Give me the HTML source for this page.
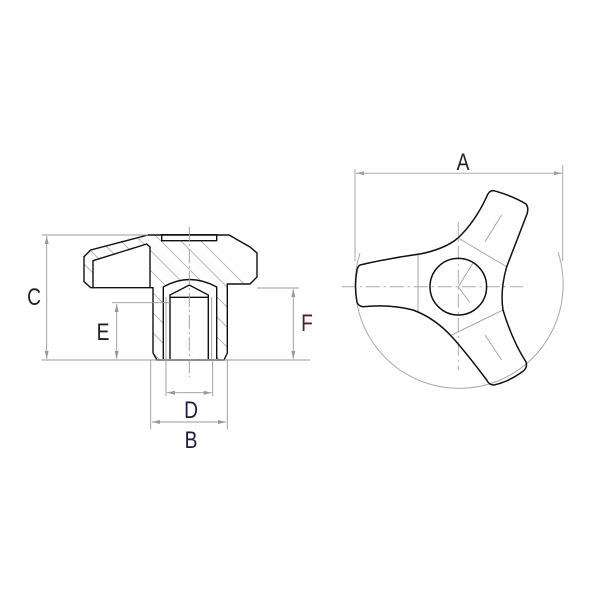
<!DOCTYPE html>
<html><head><style>html,body{margin:0;padding:0;background:#fff}svg{display:block}</style></head>
<body>
<svg width="600" height="600" viewBox="0 0 600 600" xmlns="http://www.w3.org/2000/svg">
<defs>
<clipPath id="sec">
<path d="M148,235 L90.7,250 L84,256.7 L84,281.7 L90.7,287.7 L153,287.7 L153,353 L157,360 L224,360 L227.3,353 L227.3,284 L250,284 L257,277 L257,253 L250,247 L229,235 Z"/>
</clipPath>
</defs>
<g clip-path="url(#sec)" stroke="#aaa" stroke-width="0.8">
<line x1="120" y1="220" x2="270" y2="370"/>
<line x1="140" y1="220" x2="290" y2="370"/>
<line x1="160" y1="220" x2="310" y2="370"/>
<line x1="180" y1="220" x2="330" y2="370"/>
<line x1="100" y1="220" x2="250" y2="370"/>
<line x1="80" y1="220" x2="230" y2="370"/>
<line x1="60" y1="220" x2="210" y2="370"/>
<line x1="40" y1="220" x2="190" y2="370"/>
<line x1="20" y1="220" x2="170" y2="370"/>
<line x1="0" y1="220" x2="150" y2="370"/>
</g>
<path d="M93,260.7 L146.7,244 L150,247 L150,288 L93,288 Z" fill="#fff"/>
<path d="M163.3,359 L163.3,287 Q189.3,272 216.7,287 L216.7,359 Z" fill="#fff"/>
<rect x="161.7" y="234.7" width="55" height="6" fill="#fff"/>
<g fill="none" stroke="#111" stroke-width="1.4">
<path d="M148,235 L90.7,250 L84,256.7 L84,281.7 L90.7,287.7 L153,287.7 L153,353 L157,360 L224,360 L227.3,353 L227.3,284 L250,284 L257,277 L257,253 L250,247 L229,235 Z"/>
<path d="M93,288 L93,260.7 L146.7,244 L150,247 L150,288"/>
<rect x="161.7" y="234.7" width="55" height="6"/>
<path d="M163.3,359 L163.3,287 Q189.3,272 216.7,287 L216.7,359"/>
<path d="M170,359 L170,295 L189.3,285 L208.3,295 L208.3,359"/>
<line x1="170" y1="297.3" x2="208.3" y2="297.3"/>
</g>
<g stroke="#999" stroke-width="0.9" fill="none">
<line x1="166" y1="297" x2="166" y2="359"/>
<line x1="211.7" y1="297" x2="211.7" y2="359"/>
<line x1="189.3" y1="227" x2="189.3" y2="377" stroke-dasharray="14,3,2,3"/>
<line x1="41.7" y1="235" x2="148" y2="235"/>
<line x1="41.7" y1="360" x2="310" y2="360"/>
<line x1="46.7" y1="236" x2="46.7" y2="359"/>
<line x1="112" y1="302.7" x2="170" y2="302.7"/>
<line x1="116.7" y1="304" x2="116.7" y2="359"/>
<line x1="257" y1="288" x2="299" y2="288"/>
<line x1="293.3" y1="289" x2="293.3" y2="359"/>
<line x1="166" y1="360" x2="166" y2="396"/>
<line x1="212.7" y1="360" x2="212.7" y2="396"/>
<line x1="167" y1="392.7" x2="211.7" y2="392.7"/>
<line x1="150.7" y1="360" x2="150.7" y2="429"/>
<line x1="227.3" y1="360" x2="227.3" y2="429"/>
<line x1="152" y1="422" x2="226" y2="422"/>
</g>
<g fill="#999">
<path d="M46.7,236 l-2,8 h4z"/><path d="M46.7,359 l-2,-8 h4z"/>
<path d="M116.7,304 l-2,8 h4z"/><path d="M116.7,359 l-2,-8 h4z"/>
<path d="M293.3,289 l-2,8 h4z"/><path d="M293.3,359 l-2,-8 h4z"/>
<path d="M167,392.7 l8,-2 v4z"/><path d="M211.7,392.7 l-8,-2 v4z"/>
<path d="M152,422 l8,-2 v4z"/><path d="M226,422 l-8,-2 v4z"/>
<path d="M356,173.3 l8,-2 v4z"/><path d="M562,173.3 l-8,-2 v4z"/>
</g>
<g stroke="#aaa" stroke-width="1" fill="none">
<path d="M360,253 A104,104 0 1 0 558,252"/>
<line x1="355" y1="169" x2="355" y2="261"/>
<line x1="562.7" y1="165" x2="562.7" y2="261"/>
<line x1="356" y1="173.3" x2="562" y2="173.3"/>
<line x1="341.7" y1="286.7" x2="523" y2="286.7" stroke-dasharray="14,4,2,4"/>
<line x1="458.3" y1="221.7" x2="458.3" y2="370" stroke-dasharray="14,4,2,4"/>
<line x1="459" y1="238.5" x2="507" y2="267"/>
<line x1="451.7" y1="335" x2="503" y2="310"/>
<line x1="418" y1="253" x2="418" y2="313"/>
<line x1="485" y1="241.7" x2="501.7" y2="215"/>
<line x1="485" y1="335" x2="501.7" y2="360"/>
<line x1="458.3" y1="286.7" x2="473" y2="263"/>
<line x1="458.3" y1="286.7" x2="470" y2="303"/>
</g>
<g fill="none" stroke="#111" stroke-width="1.5">
<circle cx="458.3" cy="286.7" r="28.3"/>
<path d="M360,265 Q390,258 420,254 Q445,249 458,238 Q475,222 486.7,196.7 Q489,190 494,190.7 Q513,196 526,204 Q529,208 527,214 Q517,240 506.7,266.7 Q500,290 503,310 Q512,340 526,362 Q528,368 522,372 Q508,382 494,385 Q489,385 486.7,380 Q468,355 453,338 Q435,318 413,310 Q390,304 363,306.7 Q358,306 357,302 Q354,286 357,270 Q358,266 360,265 Z"/>
</g>
<g font-family="Liberation Sans, sans-serif" font-size="24" fill="#222" text-anchor="middle" font-weight="normal">
<text x="34" y="305" transform="translate(34,0) scale(0.8,1) translate(-34,0)">C</text>
<text x="103" y="340" transform="translate(103,0) scale(0.8,1) translate(-103,0)">E</text>
<text x="307" y="331" fill="#5a1a1a" transform="translate(307,0) scale(0.8,1) translate(-307,0)">F</text>
<text x="191" y="418" fill="#1a1a4a" transform="translate(191,0) scale(0.8,1) translate(-191,0)">D</text>
<text x="191" y="448" fill="#1a1a4a" transform="translate(191,0) scale(0.8,1) translate(-191,0)">B</text>
<text x="463" y="170" transform="translate(463,0) scale(0.8,1) translate(-463,0)">A</text>
</g>
</svg>
</body></html>
